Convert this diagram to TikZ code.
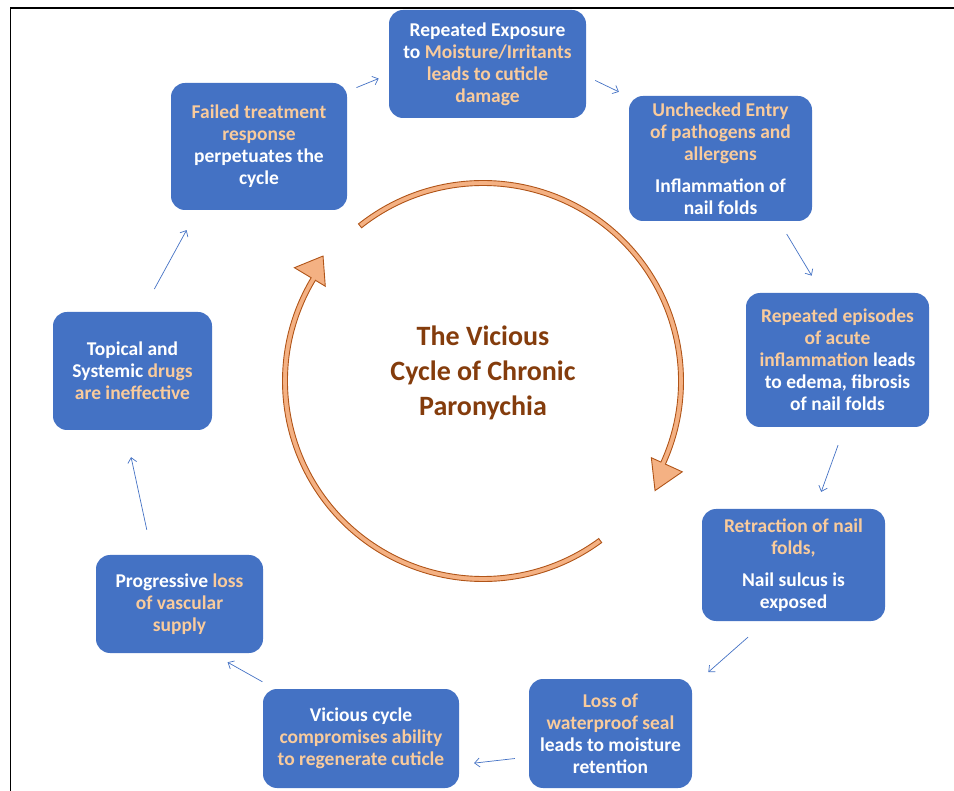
\documentclass[tikz,border=0pt]{standalone}
\usepackage{fontspec}
\setmainfont{Carlito}
\usetikzlibrary{arrows.meta,calc}
\definecolor{boxblue}{HTML}{4472C4}
\definecolor{peach}{HTML}{F9CB9C}
\definecolor{titlebrown}{HTML}{843C0C}
\definecolor{arcfill}{HTML}{F4B183}
\definecolor{arcline}{HTML}{B05418}
\newcommand{\orng}[1]{\textcolor{peach}{#1}}

\begin{document}
\begin{tikzpicture}[x=1pt, y=-1pt, font=\bfseries\fontsize{19.5}{22}\selectfont,
	box/.style={fill=boxblue, text=white, rounded corners=14pt, align=center, inner sep=0pt},
	link/.style={draw=boxblue, line width=0.7pt, -{Straight Barb[length=5pt, width=9pt]}}]
	\useasboundingbox (0,0) rectangle (954,791);
	
	% Khung
	\draw[line width=1.6pt] (10.5,791) -- (10.5,8) -- (954,8);
	
	% Cac hop
	\node[box, minimum width=197pt, minimum height=108pt] (expo) at (487.5, 64) {Repeated Exposure\\ to \orng{Moisture/Irritants}\\ \orng{leads to cuticle}\\ \orng{damage}};
	\node[box, minimum width=183pt, minimum height=125pt] (entry) at (720.5, 158.5) {\orng{Unchecked Entry}\\ \orng{of pathogens and}\\ \orng{allergens}\\[10pt] Inflammation of\\ nail folds};
	\node[box, minimum width=183pt, minimum height=134pt] (episode) at (837.5, 360) {\orng{Repeated episodes}\\ \orng{of acute}\\ \orng{inflammation} leads\\ to edema, fibrosis\\ of nail folds};
	\node[box, minimum width=183pt, minimum height=112pt] (retract) at (793.5, 565) {\orng{Retraction of nail}\\ \orng{folds,}\\[10pt] Nail sulcus is\\ exposed};
	\node[box, minimum width=163pt, minimum height=109pt] (seal) at (610.5, 733.5) {\orng{Loss of}\\ \orng{waterproof seal}\\ leads to moisture\\ retention};
	\node[box, minimum width=196pt, minimum height=99pt] (vicious) at (361, 738.5) {Vicious cycle\\ \orng{compromises ability}\\ \orng{to regenerate cuticle}};
	\node[box, minimum width=167pt, minimum height=98pt] (vascular) at (179.5, 604) {Progressive \orng{loss}\\ \orng{of vascular}\\ \orng{supply}};
	\node[box, minimum width=159pt, minimum height=118pt] (drugs) at (132.5, 371) {Topical and\\ Systemic \orng{drugs}\\ \orng{are ineffective}};
	\node[box, minimum width=176pt, minimum height=127pt] (fail) at (259, 146.5) {\orng{Failed treatment}\\ \orng{response}\\ perpetuates the\\ cycle};
	
	% Vong tron o giua
	\coordinate (ctr) at (483, 381);
	\filldraw[fill=arcfill, draw=arcline, line width=0.9pt]
		($(ctr)+(128.4:200.5pt)$) arc[start angle=128.4, end angle=-24.5, radius=200.5pt]
		-- ($(ctr)+(-24.5:219pt)$) -- ($(ctr)+(-32.5:204pt)$) -- ($(ctr)+(-24.5:185pt)$)
		-- ($(ctr)+(-24.5:195.5pt)$) arc[start angle=-24.5, end angle=128.4, radius=195.5pt] -- cycle;
	\filldraw[fill=arcfill, draw=arcline, line width=0.9pt]
		($(ctr)+(-53.7:200.5pt)$) arc[start angle=-53.7, end angle=-211, radius=200.5pt]
		-- ($(ctr)+(-211:220pt)$) -- ($(ctr)+(-218:203pt)$) -- ($(ctr)+(-211:184pt)$)
		-- ($(ctr)+(-211:195.5pt)$) arc[start angle=-211, end angle=-53.7, radius=195.5pt] -- cycle;
	\node[text=titlebrown, font=\bfseries\fontsize{28}{35}\selectfont, align=center] (title) at (483, 373) {The Vicious\\ Cycle of Chronic\\ Paronychia};
	
	% Mui ten
	\draw[link, shorten <=10pt, shorten >=11pt] (fail.32) -- (expo.186);
	\draw[link, shorten <=10pt, shorten >=11pt] (expo.-7) -- (entry.146);
	\draw[link, shorten <=15pt, shorten >=20pt] (entry.-47) -- (episode.103);
	\draw[link, shorten <=19pt, shorten >=18pt] (episode.-84) -- (retract.69);
	\draw[link, shorten <=24pt, shorten >=21.5pt] (retract.244) -- (seal.30);
	\draw[link, shorten <=14pt, shorten >=15pt] (seal.196) -- (vicious.-15);
	\draw[link, shorten <=14.4pt, shorten >=18.5pt] (vicious.150) -- (vascular.-57);
	\draw[link, shorten <=25.6pt, shorten >=27.6pt] (vascular.119) -- (drugs.263);
	\draw[link, shorten <=26pt, shorten >=22.7pt] (drugs.81) -- (fail.226);
\end{tikzpicture}
\end{document}
